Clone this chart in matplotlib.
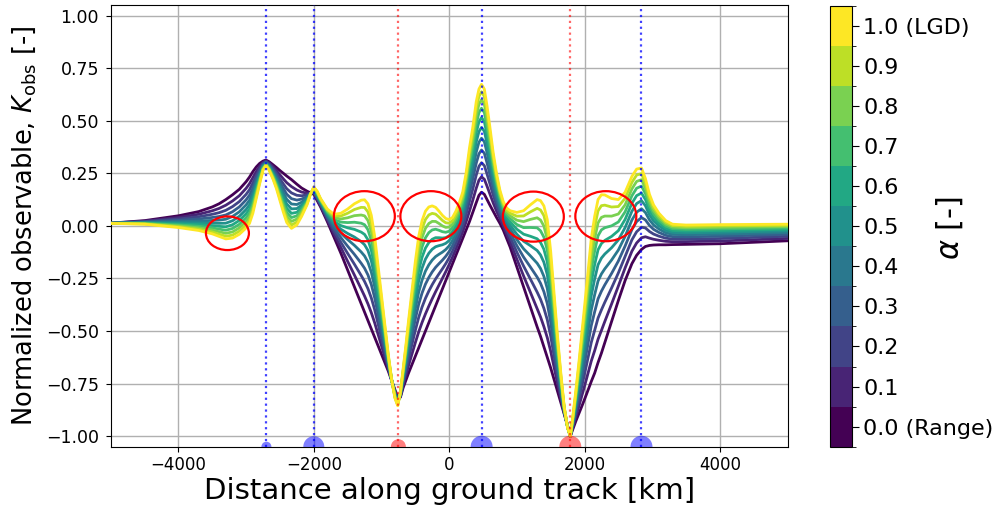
import numpy as np
import matplotlib
matplotlib.use('Agg')
import matplotlib.pyplot as plt
from matplotlib.colors import ListedColormap, BoundaryNorm
from matplotlib.cm import ScalarMappable
from matplotlib.patches import Ellipse

# distance along ground track [km]
dist = [-5000, -4500, -4000, -3700, -3500, -3400, -3300, -3200, -3100, -3000, -2950, -2900,
        -2850, -2800, -2750, -2707, -2660, -2600, -2550, -2500, -2450, -2400, -2330, -2250,
        -2180, -2100, -2050, -2000, -1950, -1900, -1800, -1700, -1600, -1500, -1400, -1300,
        -1250, -1200, -1150, -1100, -1050, -1000, -950, -900, -850, -800, -760, -720,
        -680, -640, -600, -550, -500, -450, -400, -350, -300, -250, -200, -150,
        -100, -50, 0, 50, 100, 150, 200, 250, 300, 350, 400, 440,
        478, 520, 560, 600, 650, 700, 750, 800, 850, 900, 1000, 1100,
        1200, 1300, 1350, 1400, 1450, 1500, 1550, 1600, 1650, 1700, 1750, 1790,
        1830, 1870, 1920, 1970, 2030, 2100, 2150, 2200, 2250, 2300, 2400, 2500,
        2600, 2700, 2770, 2842, 2900, 2960, 3020, 3100, 3200, 3300, 3500, 4000,
        4500, 5000]

# alpha = 0 (Range)
k_range = [0.013, 0.025, 0.048, 0.068, 0.09, 0.105, 0.125, 0.148, 0.174, 0.21, 0.232, 0.258,
           0.28, 0.297, 0.308, 0.313, 0.305, 0.29, 0.277, 0.263, 0.25, 0.237, 0.22, 0.198,
           0.18, 0.165, 0.157, 0.15, 0.12, 0.09, 0.02, -0.055, -0.13, -0.21, -0.29, -0.37,
           -0.41, -0.45, -0.49, -0.53, -0.57, -0.61, -0.65, -0.69, -0.735, -0.78, -0.815, -0.815,
           -0.77, -0.735, -0.70, -0.66, -0.62, -0.58, -0.54, -0.50, -0.46, -0.42, -0.38, -0.34,
           -0.30, -0.26, -0.22, -0.18, -0.14, -0.10, -0.06, -0.02, 0.02, 0.065, 0.11, 0.145,
           0.16, 0.15, 0.125, 0.10, 0.07, 0.04, 0.012, -0.02, -0.06, -0.10, -0.195, -0.29,
           -0.385, -0.48, -0.525, -0.575, -0.625, -0.675, -0.73, -0.785, -0.84, -0.895, -0.95, -1.0,
           -0.965, -0.93, -0.89, -0.85, -0.80, -0.74, -0.70, -0.65, -0.605, -0.555, -0.455, -0.355,
           -0.26, -0.18, -0.14, -0.112, -0.098, -0.093, -0.091, -0.09, -0.09, -0.089, -0.088, -0.085,
           -0.078, -0.071]

# alpha = 1 (LGD)
k_lgd = [0.012, 0.008, -0.008, -0.022, -0.038, -0.05, -0.062, -0.058, -0.04, -0.01, 0.012, 0.06,
         0.13, 0.20, 0.265, 0.287, 0.265, 0.22, 0.175, 0.12, 0.065, 0.016, -0.012, 0.005,
         0.045, 0.10, 0.15, 0.185, 0.165, 0.13, 0.08, 0.055, 0.06, 0.08, 0.105, 0.122,
         0.124, 0.105, 0.05, -0.05, -0.19, -0.33, -0.47, -0.61, -0.73, -0.82, -0.855, -0.79,
         -0.68, -0.57, -0.45, -0.31, -0.17, -0.05, 0.025, 0.07, 0.09, 0.095, 0.088, 0.07,
         0.05, 0.035, 0.03, 0.04, 0.07, 0.11, 0.16, 0.25, 0.37, 0.47, 0.59, 0.65,
         0.673, 0.65, 0.57, 0.475, 0.35, 0.25, 0.17, 0.115, 0.085, 0.072, 0.064, 0.072,
         0.10, 0.125, 0.12, 0.095, 0.03, -0.12, -0.32, -0.52, -0.70, -0.86, -0.96, -1.0,
         -0.90, -0.79, -0.64, -0.48, -0.29, -0.06, 0.045, 0.125, 0.148, 0.147, 0.13, 0.125,
         0.16, 0.235, 0.27, 0.275, 0.225, 0.15, 0.10, 0.06, 0.025, 0.008, 0.004, 0.006,
         0.007, 0.008]

alphas = [0.0, 0.1, 0.2, 0.3, 0.4, 0.5, 0.6, 0.7, 0.8, 0.9, 1.0]
# share of the LGD curve in each mixed curve
lgd_share = [0.0, 0.143, 0.273, 0.391, 0.5, 0.6, 0.692, 0.778, 0.857, 0.931, 1.0]

blue_pos = [-2700, -2000, 480, 2842]
blue_size = [52, 228, 250, 250]
red_pos = [-750, 1790]
red_size = [117, 250]

# hand-drawn red rings: (x centre, y centre, width km, height)
rings = [(-3276, -0.035, 635, 0.16), (-1253, 0.046, 901, 0.238), (-270, 0.046, 901, 0.238),
         (1244, 0.044, 901, 0.238), (2315, 0.046, 901, 0.238)]

fig = plt.figure(figsize=(9.96, 5.12), dpi=100)
ax = fig.add_axes([0.1112, 0.1275, 0.6795, 0.8627])
cax = fig.add_axes([0.8333, 0.1275, 0.0224, 0.8613])

cmap = ListedColormap(plt.cm.viridis(np.linspace(0, 1, len(alphas))))
bounds = np.linspace(-0.05, 1.05, len(alphas) + 1)
norm = BoundaryNorm(bounds, cmap.N)

x = np.array(dist)
r = np.array(k_range)
l = np.array(k_lgd)
for a, w in zip(alphas, lgd_share):
    ax.plot(x, r + w * (l - r), color=cmap(norm(a)), lw=2.0, zorder=3)

for p in blue_pos:
    ax.axvline(p, color='b', ls=':', lw=1.6, alpha=0.75, zorder=4)
for p in red_pos:
    ax.axvline(p, color='r', ls=':', lw=1.6, alpha=0.6, zorder=4)

ax.scatter(blue_pos, [-1.05] * len(blue_pos), s=blue_size, color='b', alpha=0.5, zorder=5, lw=0)
ax.scatter(red_pos, [-1.05] * len(red_pos), s=red_size, color='r', alpha=0.5, zorder=5, lw=0)

for cx, cy, w, h in rings:
    ax.add_patch(Ellipse((cx, cy), w, h, fill=False, edgecolor='red', lw=1.6, zorder=6))

ax.set_xlim(-5000, 5000)
ax.set_ylim(-1.05, 1.05)
ax.set_xticks([-4000, -2000, 0, 2000, 4000])
ax.set_yticks(np.arange(-1.0, 1.01, 0.25))
ax.tick_params(axis='x', labelsize=12)
ax.tick_params(axis='y', labelsize=12.5, pad=5)
ax.grid(True, color='#b0b0b0', lw=1.0, zorder=0)
ax.set_axisbelow(True)
ax.set_xlabel("Distance along ground track [km]", fontsize=21, labelpad=2)
ax.set_ylabel(r"Normalized observable, $K_{\mathrm{obs}}$ [-]", fontsize=18.5, labelpad=6)

cb = fig.colorbar(ScalarMappable(norm=norm, cmap=cmap), cax=cax)
cb.set_ticks(alphas)
cb.set_ticklabels(['0.0 (Range)'] + [f"{a:.1f}" for a in alphas[1:-1]] + ['1.0 (LGD)'])
cb.ax.yaxis.set_ticks(bounds, minor=True)
cb.ax.tick_params(labelsize=16, length=5, pad=3)
cb.ax.tick_params(which='minor', length=3)
fig.text(0.954, 0.555, r"$\alpha$ [-]", fontsize=22, rotation=90, ha='center', va='center')

fig.savefig("out.png", dpi=100)
